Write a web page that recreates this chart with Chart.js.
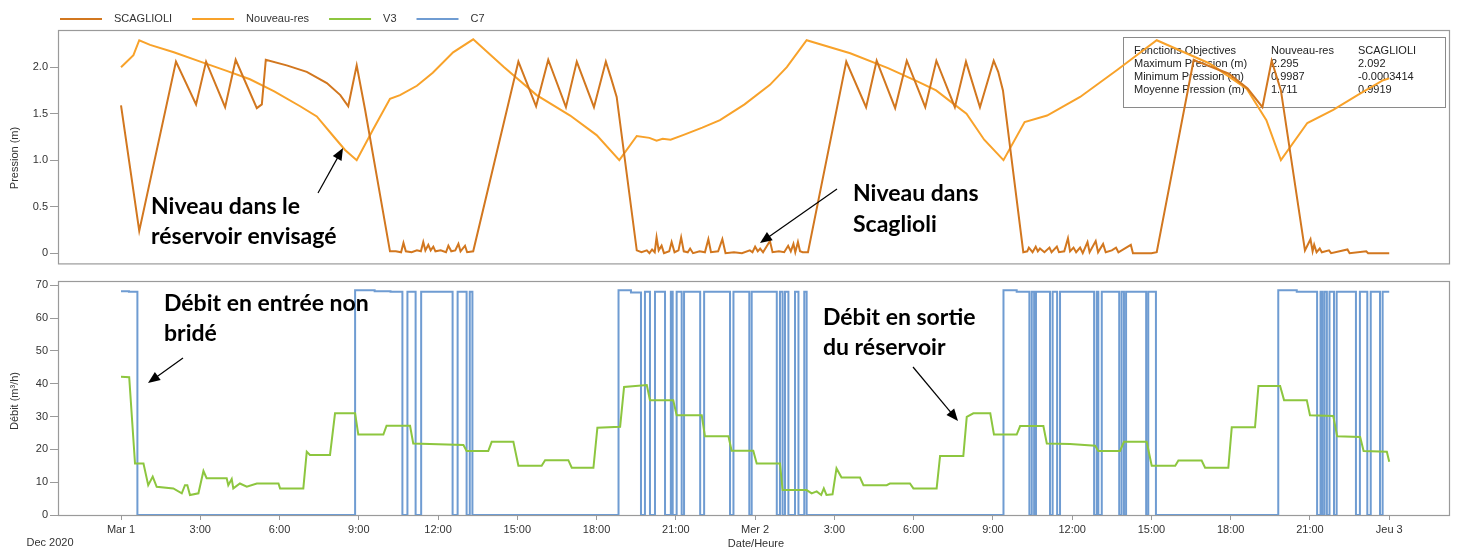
<!DOCTYPE html>
<html><head><meta charset="utf-8">
<script src="https://cdn.jsdelivr.net/npm/chart.js@4/dist/chart.umd.min.js"></script>
<style>
html,body{margin:0;padding:0;background:#fff;}
#wrap{position:relative;width:1459px;height:549px;overflow:hidden;}
#c1{position:absolute;left:0;top:0;}
#c2{position:absolute;left:0;top:272px;}
</style></head><body>
<div id="wrap">
<canvas id="c1" width="1459" height="272"></canvas>
<canvas id="c2" width="1459" height="277"></canvas>
</div>
<script>
// ---------- data (hours from Mar 1 00:00) ----------
const hourTicks = [0,3,6,9,12,15,18,21,24,27,30,33,36,39,42,45,48];
const hourLabels = ['Mar 1','3:00','6:00','9:00','12:00','15:00','18:00','21:00','Mer 2','3:00','6:00','9:00','12:00','15:00','18:00','21:00','Jeu 3'];
const pressTicks = [0,0.5,1,1.5,2];
const debitTicks = [0,10,20,30,40,50,60,70];
const seriesNames = ['SCAGLIOLI','Nouveau-res','V3','C7'];

const scaglioli = [
[0,1.59],[0.69,0.24],[2.08,2.06],[2.84,1.60],[3.22,2.06],[3.94,1.57],[4.34,2.08],[5.14,1.56],[5.33,1.60],[5.48,2.08],
[6.27,2.02],[7.03,1.95],[7.79,1.83],[8.3,1.70],[8.6,1.58],[8.92,2.02],[9.24,1.54],[10.18,0.02],
[10.4,0.02],[10.6,0.01],[10.69,0.11],[10.78,0.02],[11.0,0.01],[11.2,0.03],[11.35,0.02],[11.44,0.12],[11.52,0.03],[11.63,0.09],
[11.72,0.03],[11.82,0.07],[11.9,0.02],[12.1,0.03],[12.3,0.01],[12.39,0.08],[12.5,0.02],[12.65,0.03],[12.77,0.10],[12.85,0.02],
[13.02,0.08],[13.1,0.01],[13.33,0.02],
[15.04,2.06],[15.71,1.58],[16.17,2.08],[16.84,1.57],[17.25,2.06],[17.9,1.57],[18.35,2.06],[18.55,1.88],[18.76,1.68],[19.52,0.03],
[19.7,0.01],[19.9,0.03],[20.0,0.0],[20.1,0.04],[20.2,0.01],[20.27,0.17],[20.35,0.03],[20.46,0.08],[20.55,0.0],[20.75,0.02],
[20.84,0.12],[20.95,0.01],[21.1,0.03],[21.2,0.17],[21.3,0.02],[21.45,0.01],[21.54,0.05],[21.65,0.0],[21.9,0.02],[22.1,0.01],
[22.23,0.15],[22.33,0.01],[22.6,0.02],[22.76,0.15],[22.88,0.0],[23.2,0.01],[23.5,0.0],[23.8,0.03],[23.9,0.01],[24.0,0.07],
[24.1,0.02],[24.19,0.05],[24.3,0.01],[24.56,0.13],[24.66,0.01],[24.9,0.02],[25.1,0.01],[25.25,0.08],[25.35,0.02],[25.45,0.10],
[25.52,0.01],[25.62,0.12],[25.7,0.02],[25.8,0.01],[26.0,0.01],
[27.45,2.06],[28.2,1.57],[28.6,2.07],[29.3,1.56],[29.74,2.07],[30.44,1.57],[30.86,2.07],[31.56,1.57],[31.98,2.06],[32.51,1.57],
[33.03,2.07],[33.2,1.95],[33.38,1.75],[34.15,0.01],
[34.3,0.02],[34.36,0.06],[34.5,0.01],[34.62,0.07],[34.7,0.02],[34.78,0.05],[34.95,0.01],[35.14,0.06],[35.22,0.01],[35.42,0.07],
[35.5,0.01],[35.7,0.02],[35.84,0.16],[35.92,0.02],[36.05,0.06],[36.15,0.01],[36.3,0.06],[36.4,0.0],[36.58,0.12],[36.66,0.01],
[36.89,0.13],[36.98,0.01],[37.17,0.10],[37.27,0.01],[37.5,0.03],[37.66,0.06],[37.75,0.01],[38.22,0.09],[38.3,0.0],[39.0,0.0],[39.2,0.01],
[40.6,2.08],[40.75,2.06],[41.3,2.0],[41.93,1.93],[42.64,1.77],[43.2,1.57],[43.55,2.07],[43.9,1.75],[44.81,0.03],
[45.02,0.15],[45.1,0.02],[45.16,0.09],[45.25,0.01],[45.37,0.05],[45.45,0.01],[45.72,0.03],[45.8,0.0],[46.42,0.04],[46.5,0.0],
[47.13,0.02],[47.2,0.0],[48.0,0.0]
];

const nouveauRes = [
[0,2.00],[0.47,2.13],[0.69,2.29],[1.1,2.24],[2.0,2.16],[3.0,2.06],[4.0,1.96],[4.88,1.87],[5.8,1.74],[6.78,1.58],[7.41,1.47],
[8.03,1.26],[8.48,1.11],[8.92,1.00],[9.54,1.33],[10.18,1.66],[10.56,1.70],[11.2,1.80],[11.8,1.94],[12.57,2.16],[13.33,2.30],
[14.5,2.00],[15.73,1.70],[17.0,1.48],[18.0,1.27],[18.86,1.00],[19.52,1.26],[20.0,1.24],[20.27,1.21],[20.5,1.23],[20.8,1.22],
[21.27,1.27],[22.0,1.35],[22.67,1.43],[23.6,1.60],[24.56,1.81],[25.2,2.00],[25.95,2.29],[27.6,2.15],[29.03,1.99],[30.2,1.84],
[30.85,1.75],[31.4,1.63],[32.0,1.50],[32.67,1.22],[33.4,1.00],[34.2,1.41],[35.05,1.48],[36.3,1.68],[37.7,1.97],[39.2,2.29],
[41.2,2.04],[42.6,1.77],[43.35,1.43],[43.9,1.00],[44.9,1.40],[45.88,1.54],[46.8,1.70],[47.77,1.86],[48.0,1.88]
];

const v3 = [
[0,42.1],[0.31,42],[0.53,15.7],[0.85,15.7],[1.03,9.1],[1.2,11.7],[1.35,8.6],[1.98,8.1],[2.3,6.6],[2.42,9.1],[2.51,9.1],
[2.61,6.1],[2.93,6.6],[3.12,13.4],[3.24,11.2],[4.0,11.2],[4.06,9.1],[4.19,11],[4.25,8.1],[4.5,9.6],[4.76,8.6],[5.14,9.6],
[5.96,9.6],[6.02,8.1],[6.9,8.1],[7.03,19.3],[7.15,18.3],[7.91,18.3],[8.1,31],[8.86,31],[8.98,24.5],[9.93,24.5],[10.05,27.2],
[10.94,27.2],[11.06,21.8],[12.96,21.3],[13.08,19.5],[13.9,19.5],[14.03,22.3],[14.85,22.3],[15.04,15],[15.92,15],[16.05,16.7],
[16.93,16.7],[17.06,14.4],[17.88,14.4],[18.03,26.6],[18.89,26.9],[19.04,39],[19.9,39.6],[20.02,35],[20.9,35],[21.03,30.4],
[21.98,30.4],[22.1,24],[22.99,24],[23.11,19.6],[23.93,19.6],[24.06,15.7],[24.94,15.7],[25.04,7.6],[25.95,7.6],[26.14,6.6],
[26.33,7.2],[26.5,6.1],[26.6,8.1],[26.7,6.1],[26.93,6.3],[27.08,14.2],[27.27,11.4],[27.97,11.4],[28.1,9.1],[28.98,9.1],
[29.1,9.6],[29.86,9.6],[29.99,8.1],[30.87,8.1],[31.0,18],[31.88,18],[32.01,29.9],[32.26,31],[32.9,31],[33.04,24.5],[33.9,24.5],
[34.03,27.1],[34.91,27.1],[35.04,21.8],[35.92,21.6],[36.87,21.1],[36.99,19.5],[37.81,19.5],[37.96,22.3],[38.82,22.3],[39.01,15],
[39.9,15],[40.02,16.6],[40.9,16.6],[41.03,14.4],[41.91,14.4],[42.04,26.7],[42.92,26.7],[43.05,39.3],[43.87,39.3],[44.02,35],
[44.88,35],[45.0,30.4],[45.88,30.2],[46.03,24],[46.9,23.8],[47.03,19.5],[47.91,19.3],[48.0,16.2]
];

// C7: [time, value held from that time on]
const c7 = [
[0,68.2],[0.3,68],[0.62,0],
[8.86,68.5],[9.6,68.2],[10.2,68],[10.65,0],[10.84,68],[11.15,0],[11.36,68],[12.55,0],[12.74,68],[13.08,0],[13.2,68],[13.3,0],
[18.83,68.5],[19.3,67.8],[19.68,0],[19.83,68],[20.02,0],[20.21,68],[20.59,0],[20.81,68],[20.88,0],[21.03,68],[21.22,0],
[21.31,68],[21.92,0],[22.07,68],[23.05,0],[23.18,68],[23.78,0],[23.87,68],[24.82,0],[24.94,68],[25.04,0],[25.13,68],[25.26,0],
[25.51,68],[25.64,0],[25.86,68],[25.95,0],
[33.4,68.5],[33.9,68],[34.38,0],[34.47,68],[34.56,0],[34.63,68],[35.16,0],[35.26,68],[35.43,0],[35.54,68],[36.83,0],[36.93,68],
[36.99,0],[37.12,68],[37.78,0],[37.87,68],[37.96,0],[38.04,68],[38.8,0],[38.88,68],[39.17,0],
[43.8,68.5],[44.5,68],[45.27,0],[45.4,68],[45.47,0],[45.55,68],[45.64,0],[45.74,68],[45.91,0],[46.01,68],[46.74,0],[46.89,68],
[47.17,0],[47.3,68],[47.65,0],[47.75,68],[48.0,68]
];

const statsRows = [
['Fonctions Objectives','Nouveau-res','SCAGLIOLI'],
['Maximum Pression (m)','2.295','2.092'],
['Minimum Pression (m)','0.9987','-0.0003414'],
['Moyenne Pression (m)','1.711','0.9919']
];
const notesTop = [['Niveau dans le','réservoir envisagé'],['Niveau dans','Scaglioli']];
const notesBottom = [['Débit en entrée non','bridé'],['Débit en sortie','du réservoir']];

// ---------- styles ----------
const COLORS = ['#D2771F','#F8A22A','#8DC63F','#6F9CD2'];
const FONT = "'Liberation Sans', Arial, sans-serif";
const NOTE_FONT = "bold 23px Lato, 'Open Sans', sans-serif";
const TXT = '#333';
const AXIS = '#9a9a9a';
const X_MIN = -2.385, X_MAX = 50.3;
Chart.defaults.font.family = FONT;
Chart.defaults.font.size = 11;
Chart.defaults.color = TXT;

const toXY = a => a.map(p => ({x:p[0], y:p[1]}));

function arrow(ctx,x1,y1,x2,y2){
  const a=Math.atan2(y2-y1,x2-x1), L=12, W=5;
  ctx.save();
  ctx.strokeStyle='#000'; ctx.fillStyle='#000'; ctx.lineWidth=1.2;
  ctx.beginPath(); ctx.moveTo(x1,y1); ctx.lineTo(x2-L*0.8*Math.cos(a), y2-L*0.8*Math.sin(a)); ctx.stroke();
  ctx.beginPath(); ctx.moveTo(x2,y2);
  ctx.lineTo(x2-L*Math.cos(a)+W*Math.sin(a), y2-L*Math.sin(a)-W*Math.cos(a));
  ctx.lineTo(x2-L*Math.cos(a)-W*Math.sin(a), y2-L*Math.sin(a)+W*Math.cos(a));
  ctx.closePath(); ctx.fill();
  ctx.restore();
}
function note(ctx, lines, x, y0, dy){
  ctx.save(); ctx.font=NOTE_FONT; ctx.fillStyle='#000'; ctx.textBaseline='alphabetic'; ctx.textAlign='left';
  lines.forEach((t,i)=>ctx.fillText(t,x,y0+i*dy));
  ctx.restore();
}
function box(chart){
  const ca=chart.chartArea, ctx=chart.ctx;
  ctx.save(); ctx.strokeStyle=AXIS; ctx.lineWidth=1.2;
  ctx.strokeRect(ca.left+0.5, ca.top+0.5, ca.right-ca.left-1, ca.bottom-ca.top);
  ctx.restore();
}
function vtitle(ctx, text, x, y){
  ctx.save(); ctx.translate(x,y); ctx.rotate(-Math.PI/2);
  ctx.font='11px '+FONT; ctx.fillStyle=TXT; ctx.textAlign='center'; ctx.textBaseline='middle';
  ctx.fillText(text,0,0); ctx.restore();
}

const topPlugin = {
  id:'topDeco',
  beforeDatasetsDraw(chart){
    const ctx=chart.ctx;
    box(chart);
    // stats box
    ctx.save();
    ctx.fillStyle='#fff'; ctx.fillRect(1123,37,322,70);
    ctx.strokeStyle='#8a8a8a'; ctx.lineWidth=1; ctx.strokeRect(1123.5,37.5,322,70);
    ctx.font='11px '+FONT; ctx.fillStyle='#222'; ctx.textBaseline='middle'; ctx.textAlign='left';
    const cols=[1134,1271,1358];
    statsRows.forEach((r,i)=>r.forEach((t,j)=>ctx.fillText(t, cols[j], 51+i*13)));
    ctx.restore();
  },
  afterDraw(chart){
    const ctx=chart.ctx;
    // legend
    ctx.save(); ctx.font='11px '+FONT; ctx.textBaseline='middle';
    let x=60;
    seriesNames.forEach((n,i)=>{
      ctx.strokeStyle=COLORS[i]; ctx.lineWidth=2;
      ctx.beginPath(); ctx.moveTo(x,19); ctx.lineTo(x+42,19); ctx.stroke();
      x+=54; ctx.fillStyle=TXT; ctx.fillText(n,x,19);
      x+=ctx.measureText(n).width+20;
    });
    ctx.restore();
    vtitle(ctx,'Pression (m)',15,158);
    note(ctx, notesTop[0], 151, 214, 30);
    note(ctx, notesTop[1], 853, 201, 31);
    arrow(ctx,318,193,343,148);
    arrow(ctx,837,189,760,243);
  }
};

const botPlugin = {
  id:'botDeco',
  beforeDatasetsDraw(chart){ box(chart); },
  afterDraw(chart){
    const ctx=chart.ctx, o=272;
    vtitle(ctx,'Débit (m³/h)',15,401-o);
    ctx.save(); ctx.font='11px '+FONT; ctx.fillStyle=TXT; ctx.textBaseline='middle'; ctx.textAlign='center';
    ctx.fillText('Date/Heure',756,544-o);
    ctx.fillText('Dec 2020',50,543-o);
    ctx.restore();
    note(ctx, notesBottom[0], 164, 311-o, 30);
    note(ctx, notesBottom[1], 823, 325-o, 30);
    arrow(ctx,183,358-o,148,383-o);
    arrow(ctx,913,367-o,958,421-o);
  }
};

const lineDs = (label, arr, color, extra) => Object.assign({
  label, data: toXY(arr), borderColor: color, backgroundColor: color,
  borderWidth: 2, pointRadius: 0, fill: false, tension: 0
}, extra||{});

const common = {
  responsive:false, animation:false, devicePixelRatio:1,
  plugins:{legend:{display:false}, tooltip:{enabled:false}},
  events:[]
};

new Chart(document.getElementById('c1'), {
  type:'line',
  data:{datasets:[
    lineDs(seriesNames[0], scaglioli, COLORS[0]),
    lineDs(seriesNames[1], nouveauRes, COLORS[1])
  ]},
  options:Object.assign({}, common, {
    layout:{padding:{top:30,bottom:8,left:0,right:9}},
    scales:{
      x:{type:'linear', min:X_MIN, max:X_MAX, display:false},
      y:{type:'linear', min:-0.11, max:2.4,
         afterFit(s){ s.width=58; },
         afterBuildTicks(s){ s.ticks=pressTicks.map(v=>({value:v})); },
         ticks:{callback:v=> v===0?'0':Number(v).toFixed(1), padding:2, color:TXT, font:{size:11}},
         grid:{drawOnChartArea:false, drawTicks:true, tickLength:8, color:AXIS, tickWidth:1},
         border:{display:false}}
    }
  }),
  plugins:[topPlugin]
});

new Chart(document.getElementById('c2'), {
  type:'line',
  data:{datasets:[
    lineDs(seriesNames[2], v3, COLORS[2]),
    lineDs(seriesNames[3], c7, COLORS[3], {stepped:true})
  ]},
  options:Object.assign({}, common, {
    layout:{padding:{top:9,bottom:0,left:0,right:9}},
    scales:{
      x:{type:'linear', min:X_MIN, max:X_MAX,
         afterFit(s){ s.height=34; },
         afterBuildTicks(s){ s.ticks=hourTicks.map(v=>({value:v})); },
         ticks:{callback:(v,i)=>hourLabels[i], autoSkip:false, maxRotation:0, padding:3, color:TXT, font:{size:11}},
         grid:{drawOnChartArea:false, drawTicks:true, tickLength:5, color:AXIS},
         border:{display:false}},
      y:{type:'linear', min:0, max:71.3,
         afterFit(s){ s.width=58; },
         afterBuildTicks(s){ s.ticks=debitTicks.map(v=>({value:v})); },
         ticks:{padding:2, color:TXT, font:{size:11}},
         grid:{drawOnChartArea:false, drawTicks:true, tickLength:8, color:AXIS},
         border:{display:false}}
    }
  }),
  plugins:[botPlugin]
});
</script>
</body></html>
